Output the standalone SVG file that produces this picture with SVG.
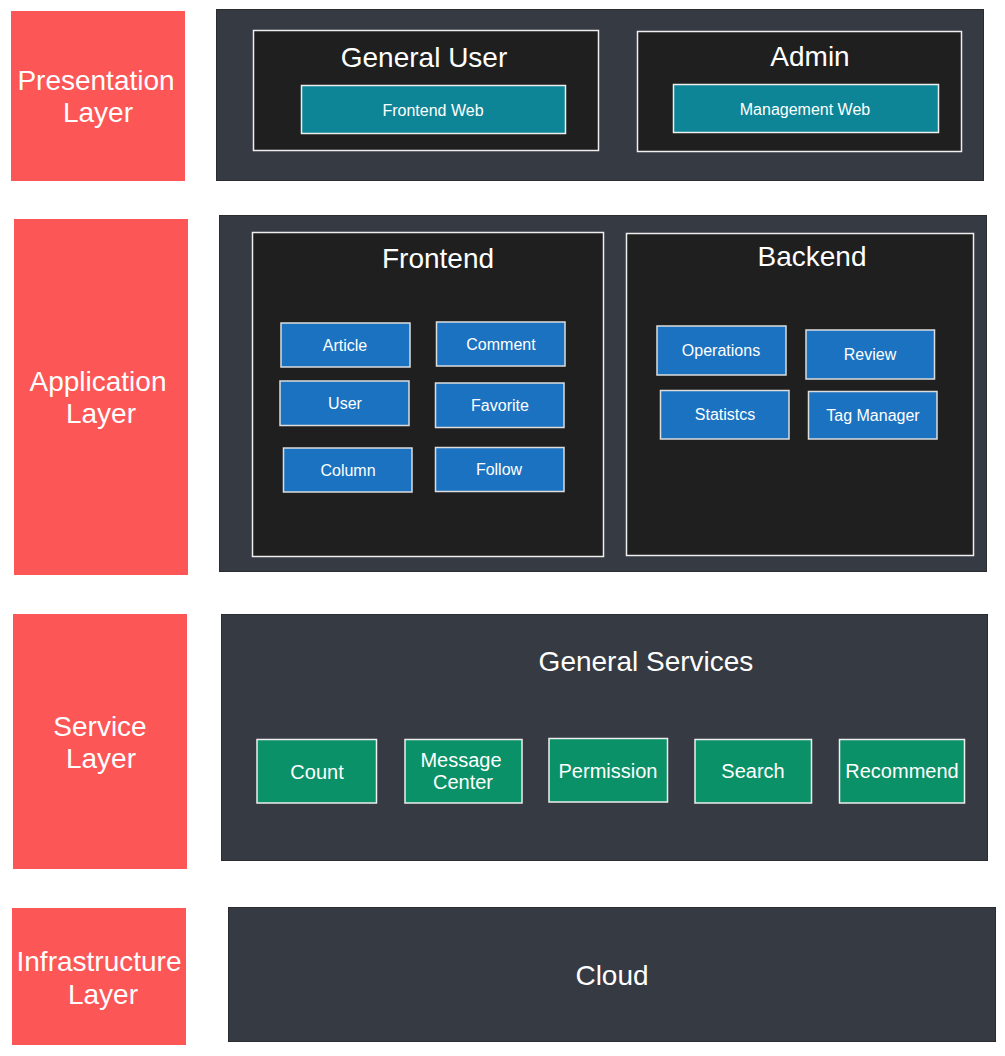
<svg xmlns="http://www.w3.org/2000/svg" width="1005" height="1056" viewBox="0 0 1005 1056">
<style>
text{font-family:"Liberation Sans",Arial,Helvetica,sans-serif;fill:#ffffff;text-anchor:middle;dominant-baseline:central}
.layer{fill:#fd5656;stroke:none}
.layer-t{font-size:28px}
.panel{fill:#363a42;stroke:#2a2c30;stroke-width:1}
.box{fill:#1f1f1f;stroke:#eeeeee;stroke-width:1.5}
.title{font-size:28px}
.teal{fill:#0e8596;stroke:#eeeeee;stroke-width:1.5}
.blue{fill:#1b72c0;stroke:#dddddd;stroke-width:1.5}
.green{fill:#0a9167;stroke:#eeeeee;stroke-width:1.5}
.s16{font-size:16px}
.s20{font-size:20px}
</style>
<rect width="1005" height="1056" fill="#ffffff"/>

<g id="presentation-layer">
<rect class="layer" x="11" y="11" width="174" height="170"/>
<text class="layer-t" x="96" y="80">Presentation</text>
<text class="layer-t" x="98" y="112">Layer</text>
</g>
<g id="presentation-panel">
<rect class="panel" x="216.5" y="9.5" width="767" height="171"/>
</g>
<g id="general-user">
<rect class="box" x="253.5" y="30.5" width="345" height="120"/>
<text class="title" x="424" y="57">General User</text>
</g>
<g id="frontend-web">
<rect class="teal" x="301.5" y="85.5" width="264" height="48"/>
<text class="s16" x="433" y="110">Frontend Web</text>
</g>
<g id="admin">
<rect class="box" x="637.5" y="31.5" width="324" height="120"/>
<text class="title" x="810" y="56">Admin</text>
</g>
<g id="management-web">
<rect class="teal" x="673.5" y="84.5" width="265" height="48"/>
<text class="s16" x="805" y="109">Management Web</text>
</g>

<g id="application-layer">
<rect class="layer" x="14" y="219" width="174" height="356"/>
<text class="layer-t" x="98" y="381">Application</text>
<text class="layer-t" x="101" y="413">Layer</text>
</g>
<g id="application-panel">
<rect class="panel" x="219.5" y="215.5" width="767" height="356"/>
</g>
<g id="frontend">
<rect class="box" x="252.5" y="232.5" width="351" height="324"/>
<text class="title" x="438" y="258">Frontend</text>
</g>
<g id="article"><rect class="blue" x="281" y="323" width="129" height="44"/><text class="s16" x="345" y="345">Article</text></g>
<g id="comment"><rect class="blue" x="436.5" y="322" width="128.5" height="44"/><text class="s16" x="501" y="344">Comment</text></g>
<g id="user"><rect class="blue" x="280" y="381" width="129" height="44.5"/><text class="s16" x="345" y="403">User</text></g>
<g id="favorite"><rect class="blue" x="435.5" y="383" width="128.5" height="44.5"/><text class="s16" x="500" y="405">Favorite</text></g>
<g id="column"><rect class="blue" x="283.5" y="448" width="128.5" height="44"/><text class="s16" x="348" y="470">Column</text></g>
<g id="follow"><rect class="blue" x="435.5" y="447.5" width="128.5" height="44"/><text class="s16" x="499" y="469">Follow</text></g>

<g id="backend">
<rect class="box" x="626.5" y="233.5" width="347" height="322"/>
<text class="title" x="812" y="256">Backend</text>
</g>
<g id="operations"><rect class="blue" x="657" y="326" width="129" height="49"/><text class="s16" x="721" y="350">Operations</text></g>
<g id="review"><rect class="blue" x="806" y="330" width="128.5" height="49"/><text class="s16" x="870" y="354">Review</text></g>
<g id="statistcs"><rect class="blue" x="660.5" y="390.5" width="128.5" height="48.5"/><text class="s16" x="725" y="414">Statistcs</text></g>
<g id="tag-manager"><rect class="blue" x="808.5" y="391.5" width="128.5" height="47.5"/><text class="s16" x="873" y="415">Tag Manager</text></g>

<g id="service-layer">
<rect class="layer" x="13" y="614" width="174" height="255"/>
<text class="layer-t" x="100" y="726">Service</text>
<text class="layer-t" x="101" y="758">Layer</text>
</g>
<g id="general-services">
<rect class="panel" x="221.5" y="614.5" width="766" height="246"/>
<text class="title" x="646" y="661">General Services</text>
</g>
<g id="count"><rect class="green" x="257" y="739.5" width="119.5" height="63.5"/><text class="s20" x="317" y="772">Count</text></g>
<g id="message-center"><rect class="green" x="405" y="739.5" width="117" height="63.5"/><text class="s20" x="461" y="760">Message</text><text class="s20" x="463" y="782">Center</text></g>
<g id="permission"><rect class="green" x="549" y="738.5" width="118.5" height="63.5"/><text class="s20" x="608" y="771">Permission</text></g>
<g id="search"><rect class="green" x="695" y="739.5" width="116.5" height="63.5"/><text class="s20" x="753" y="771">Search</text></g>
<g id="recommend"><rect class="green" x="839.5" y="739.5" width="125" height="63.5"/><text class="s20" x="902" y="771">Recommend</text></g>

<g id="infrastructure-layer">
<rect class="layer" x="12" y="908" width="174" height="137"/>
<text class="layer-t" x="99" y="961">Infrastructure</text>
<text class="layer-t" x="103" y="994">Layer</text>
</g>
<g id="cloud">
<rect class="panel" x="228.5" y="907.5" width="767" height="134"/>
<text class="title" x="612" y="975">Cloud</text>
</g>

<g id="connectors"></g>
</svg>
